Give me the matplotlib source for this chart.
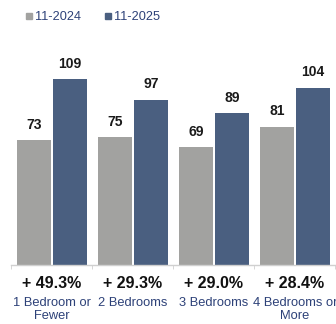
import matplotlib.pyplot as plt
from matplotlib.lines import Line2D
import numpy as np

plt.rcParams['font.family'] = ['Liberation Sans', 'DejaVu Sans']

categories = ['1 Bedroom or\nFewer', '2 Bedrooms', '3 Bedrooms', '4 Bedrooms or\nMore']
prev_year = [73, 75, 69, 81]
this_year = [109, 97, 89, 104]
changes = ['+ 49.3%', '+ 29.3%', '+ 29.0%', '+ 28.4%']
series_names = ['11-2024', '11-2025']

gray = '#a2a2a0'
blue = '#4a5f80'
navy = '#2d4178'

fig = plt.figure(figsize=(3.36, 3.24), dpi=100)
ax = fig.add_axes([0.0342, 0.1821, 0.9643, 0.6318])

x = np.arange(len(categories))
w = 0.42
b1 = ax.bar(x - 0.225, prev_year, w, color=gray)
b2 = ax.bar(x + 0.225, this_year, w, color=blue)

for bars, vals in [(b1, prev_year), (b2, this_year)]:
    for bar, v in zip(bars, vals):
        ax.annotate(str(v), (bar.get_x() + bar.get_width() / 2, v),
                    xytext=(0, 6), textcoords='offset points',
                    ha='center', va='bottom', fontsize=10, fontweight='bold',
                    color='#1a1a1a')

# percent change under each group
for xi, txt in zip(x, changes):
    ax.annotate(txt, (xi, 0), xycoords=('data', 'axes fraction'),
                xytext=(0, -13), textcoords='offset points',
                ha='center', va='center', fontsize=11.5, fontweight='bold',
                color='#111111')

ax.set_xlim(-0.5, 3.5)
ax.set_ylim(0, 120)
ax.set_xticks(x)
ax.set_xticklabels(categories, fontsize=9.3, color=navy, linespacing=1.15)
ax.tick_params(axis='x', which='major', length=0, pad=23)
ax.set_xticks(np.arange(-0.5, 4, 1), minor=True)
ax.tick_params(axis='x', which='minor', length=3, color='#d0d0d0', direction='out')
ax.set_yticks([])

for s in ['top', 'right', 'left']:
    ax.spines[s].set_visible(False)
ax.spines['bottom'].set_color('#d0d0d0')
ax.spines['bottom'].set_linewidth(1)

handles = [Line2D([], [], marker='s', linestyle='', color=gray, markersize=4),
           Line2D([], [], marker='s', linestyle='', color=blue, markersize=4)]
fig.legend(handles, series_names, loc='center left', bbox_to_anchor=(0.055, 0.947),
           ncol=2, frameon=False, fontsize=9.2, labelcolor=navy,
           handlelength=0.6, handletextpad=0.2, columnspacing=1.8, borderpad=0)

fig.savefig('out.png', dpi=100)
